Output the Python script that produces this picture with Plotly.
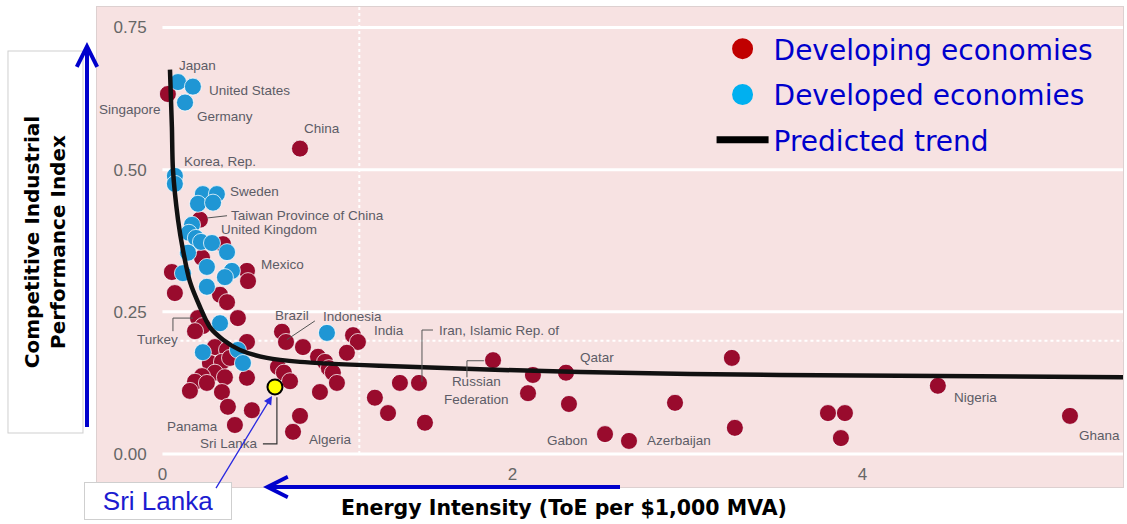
import plotly.graph_objects as go

# ---------------- data ----------------
# Developing economies (dark red dots)
dev_x = [0.031, 0.786, 0.214, 0.346, 0.226, 0.054, 0.483, 0.489, 0.071, 0.329,
         0.369, 0.203, 0.231, 0.186, 0.431, 0.483, 0.300, 0.369, 0.271, 0.340,
         0.386, 0.300, 0.357, 0.226, 0.186, 0.254, 0.157, 0.340, 0.483, 0.374,
         0.511, 0.414, 0.683, 0.706, 0.803, 0.660, 0.694, 0.729, 0.900, 0.786,
         0.746, 1.089, 1.117, 1.054, 0.889, 0.929, 0.951, 0.974, 0.997, 1.214,
         1.289, 1.357, 1.466, 1.500, 1.889, 2.117, 2.089, 2.306, 2.323, 2.529,
         2.666, 2.929, 3.254, 3.271, 4.431, 3.803, 3.900, 3.877, 5.186]
dev_y = [0.633, 0.537, 0.412, 0.369, 0.345, 0.320, 0.322, 0.304, 0.283, 0.280,
         0.267, 0.239, 0.225, 0.216, 0.239, 0.197, 0.188, 0.183, 0.160, 0.162,
         0.169, 0.143, 0.135, 0.137, 0.127, 0.125, 0.111, 0.109, 0.134, 0.083,
         0.077, 0.051, 0.215, 0.197, 0.188, 0.153, 0.143, 0.128, 0.109, 0.067,
         0.039, 0.209, 0.197, 0.178, 0.171, 0.162, 0.151, 0.143, 0.125, 0.099,
         0.072, 0.125, 0.125, 0.055, 0.165, 0.139, 0.107, 0.143, 0.088, 0.035,
         0.023, 0.090, 0.169, 0.046, 0.120, 0.072, 0.072, 0.028, 0.067]

# Developed economies (blue dots)
adv_x = [0.089, 0.174, 0.129, 0.071, 0.071, 0.231, 0.311, 0.203, 0.289, 0.169,
         0.151, 0.191, 0.220, 0.283, 0.369, 0.146, 0.254, 0.397, 0.357, 0.117,
         0.254, 0.329, 0.231, 0.431, 0.460, 0.940]
adv_y = [0.654, 0.646, 0.618, 0.489, 0.475, 0.457, 0.457, 0.440, 0.442, 0.403,
         0.389, 0.380, 0.373, 0.371, 0.355, 0.354, 0.329, 0.322, 0.311, 0.318,
         0.294, 0.230, 0.179, 0.183, 0.160, 0.213]

# Sri Lanka (highlighted)
sri_x = [0.643]
sri_y = [0.118]

# Predicted trend
trend_x = [0.043, 0.054, 0.060, 0.089, 0.117, 0.157, 0.214, 0.271, 0.346, 0.443,
           0.597, 0.786, 1.243, 2.386, 3.529, 5.489]
trend_y = [0.676, 0.575, 0.500, 0.412, 0.359, 0.303, 0.259, 0.223, 0.201, 0.183,
           0.169, 0.162, 0.155, 0.144, 0.139, 0.135]

# Axis ticks
x_tickvals = [0, 2, 4]
x_ticktext = ["0", "2", "4"]
y_tickvals = [0, 0.25, 0.50, 0.75]
y_ticktext = ["0.00", "0.25", "0.50", "0.75"]

legend_names = ["Developing economies", "Developed economies", "Predicted trend"]

# Country labels: (text, x, y, xanchor)
country_labels = [
    ("Japan", 0.083, 0.683, "left"),
    ("United States", 0.254, 0.640, "left"),
    ("Singapore", 0.003, 0.605, "right"),
    ("Germany", 0.186, 0.593, "left"),
    ("China", 0.797, 0.572, "left"),
    ("Korea, Rep.", 0.111, 0.514, "left"),
    ("Sweden", 0.374, 0.461, "left"),
    ("Taiwan Province of China", 0.380, 0.420, "left"),
    ("United Kingdom", 0.323, 0.394, "left"),
    ("Mexico", 0.551, 0.333, "left"),
    ("Brazil", 0.631, 0.243, "left"),
    ("Indonesia", 0.906, 0.241, "left"),
    ("India", 1.197, 0.218, "left"),
    ("Iran, Islamic Rep. of", 1.569, 0.218, "left"),
    ("Russian<br>Federation", 1.797, 0.112, "center"),
    ("Qatar", 2.374, 0.169, "left"),
    ("Gabon", 2.443, 0.023, "right"),
    ("Azerbaijan", 2.757, 0.023, "left"),
    ("Nigeria", 4.511, 0.100, "left"),
    ("Ghana", 5.226, 0.033, "left"),
    ("Turkey", 0.100, 0.201, "right"),
    ("Panama", 0.329, 0.048, "right"),
    ("Sri Lanka", 0.557, 0.018, "right"),
    ("Algeria", 0.826, 0.025, "left"),
]

# ---------------- styling ----------------
RED = "#990b2d"
BLUE = "#1f96d4"
PINK = "#f7e2e2"
LABEL_C = "#5c5c66"
XR = [-0.374, 5.489]
YR = [-0.058, 0.786]

fig = go.Figure()

fig.add_trace(go.Scatter(
    x=dev_x, y=dev_y, mode="markers", showlegend=False, hoverinfo="skip",
    marker=dict(color=RED, size=17, line=dict(color="rgba(255,255,255,0.75)", width=1))))
fig.add_trace(go.Scatter(
    x=adv_x, y=adv_y, mode="markers", showlegend=False, hoverinfo="skip",
    marker=dict(color=BLUE, size=17, line=dict(color="rgba(255,255,255,0.75)", width=1))))
fig.add_trace(go.Scatter(
    x=trend_x, y=trend_y, mode="lines", showlegend=False, hoverinfo="skip",
    line=dict(color="#111111", width=4.5, shape="spline", smoothing=0.8)))
fig.add_trace(go.Scatter(
    x=sri_x, y=sri_y, mode="markers", showlegend=False, hoverinfo="skip",
    marker=dict(color="#ffff00", size=15, line=dict(color="#000000", width=2))))

# legend entries
fig.add_trace(go.Scatter(x=[None], y=[None], mode="markers", name=legend_names[0], legend="legend",
                         marker=dict(color="#c00000", size=16, line=dict(color="#c00000", width=5))))
fig.add_trace(go.Scatter(x=[None], y=[None], mode="markers", name=legend_names[1], legend="legend2",
                         marker=dict(color="#00b0f0", size=16, line=dict(color="#00b0f0", width=5))))
fig.add_trace(go.Scatter(x=[None], y=[None], mode="lines", name=legend_names[2], legend="legend3",
                         line=dict(color="#000000", width=7)))

shapes = []
# solid white gridlines from x=0
for v in y_tickvals:
    shapes.append(dict(type="line", xref="x", yref="y", x0=0, x1=XR[1], y0=v, y1=v,
                       line=dict(color="white", width=3), layer="below"))
# dotted mean lines
shapes.append(dict(type="line", xref="x", yref="y", x0=0, x1=XR[1], y0=0.199, y1=0.199,
                   line=dict(color="white", width=2, dash="dot"), layer="below"))
shapes.append(dict(type="line", xref="x", yref="y", x0=1.125, x1=1.125, y0=0, y1=YR[1],
                   line=dict(color="white", width=2, dash="dot"), layer="below"))
# leader lines
leaders = [
    "M0.254,0.415 L0.369,0.419",
    "M0.871,0.234 L0.711,0.201",
    "M1.546,0.218 L1.483,0.218 L1.483,0.127",
    "M1.740,0.135 L1.740,0.164 L1.837,0.164",
    "M0.060,0.216 L0.060,0.239 L0.174,0.239",
]
for p in leaders:
    shapes.append(dict(type="path", xref="x", yref="y", path=p, line=dict(color="#555555", width=1)))
shapes.append(dict(type="path", xref="x", yref="y", path="M0.574,0.018 L0.654,0.018 L0.654,0.100",
                   line=dict(color="#333333", width=1.2)))

annotations = []
for text, x, y, anc in country_labels:
    annotations.append(dict(text=text, x=x, y=y, xref="x", yref="y", xanchor=anc, yanchor="middle",
                            showarrow=False, align="center",
                            font=dict(family="Liberation Sans, Arial", size=13.5, color=LABEL_C)))

# y-axis title box
annotations.append(dict(text="<b>Competitive Industrial</b><br><b>Performance Index</b>",
                        xref="paper", yref="paper", x=-0.0502, y=0.5104, xanchor="center", yanchor="middle",
                        textangle=-90, showarrow=False, width=381, height=74, borderpad=0,
                        bgcolor="white", bordercolor="#cfcfcf", borderwidth=1,
                        font=dict(family="DejaVu Sans", size=20, color="black")))
# x-axis title
annotations.append(dict(text="<b>Energy Intensity (ToE per $1,000 MVA)</b>",
                        xref="paper", yref="paper", x=0.455, y=-0.0438, xanchor="center", yanchor="middle",
                        showarrow=False, font=dict(family="DejaVu Sans", size=20.5, color="black")))
# blue axis arrows
annotations.append(dict(xref="paper", yref="paper", x=-0.00975, y=0.927, ax=0, ay=395,
                        showarrow=True, arrowhead=5, arrowsize=1, arrowwidth=4, arrowcolor="#0000cc"))
annotations.append(dict(xref="paper", yref="paper", x=0.1618, y=0.0, ax=360, ay=0,
                        showarrow=True, arrowhead=5, arrowsize=1, arrowwidth=4, arrowcolor="#0000cc"))
# Sri Lanka call-out
annotations.append(dict(text="Sri Lanka", xref="paper", yref="paper", x=0.0595, y=-0.029,
                        xanchor="center", yanchor="middle", showarrow=False, width=146, height=36,
                        borderpad=0, bgcolor="white", bordercolor="#cfcfcf", borderwidth=1,
                        font=dict(family="Liberation Sans, Arial", size=26, color="#1c1cd0")))
annotations.append(dict(xref="x", yref="y", x=0.626, y=0.102, ax=-59, ay=97,
                        showarrow=True, arrowhead=2, arrowsize=1.3, arrowwidth=1.3, arrowcolor="#2a2ae0"))

leg_common = dict(xanchor="left", yanchor="middle", bgcolor="rgba(0,0,0,0)", itemwidth=52,
                  font=dict(family="DejaVu Sans", size=28, color="#0000cc"))

fig.update_layout(
    width=1127, height=524, autosize=False,
    margin=dict(l=97, r=4, t=7, b=37, pad=0),
    paper_bgcolor="white", plot_bgcolor=PINK,
    shapes=shapes, annotations=annotations,
    legend=dict(x=0.599, y=0.9125, **leg_common),
    legend2=dict(x=0.599, y=0.817, **leg_common),
    legend3=dict(x=0.599, y=0.723, **leg_common),
    xaxis=dict(range=XR, tickvals=x_tickvals, ticktext=x_ticktext, ticklabelposition="inside",
               ticklabelstandoff=4,
               showgrid=False, zeroline=False, showline=True, mirror=True, linecolor="#ddd0d0",
               linewidth=1, ticks="", tickfont=dict(family="Liberation Sans, Arial", size=17, color="#666666")),
    yaxis=dict(range=YR, tickvals=y_tickvals, ticktext=y_ticktext, ticklabelposition="inside",
               ticklabelstandoff=17,
               showgrid=False, zeroline=False, showline=True, mirror=True, linecolor="#ddd0d0",
               linewidth=1, ticks="", tickfont=dict(family="Liberation Sans, Arial", size=17, color="#666666")),
)

fig.write_html("out.html", config={"displayModeBar": False},
               post_script="document.body.style.margin='0';document.body.style.overflow='hidden';")
